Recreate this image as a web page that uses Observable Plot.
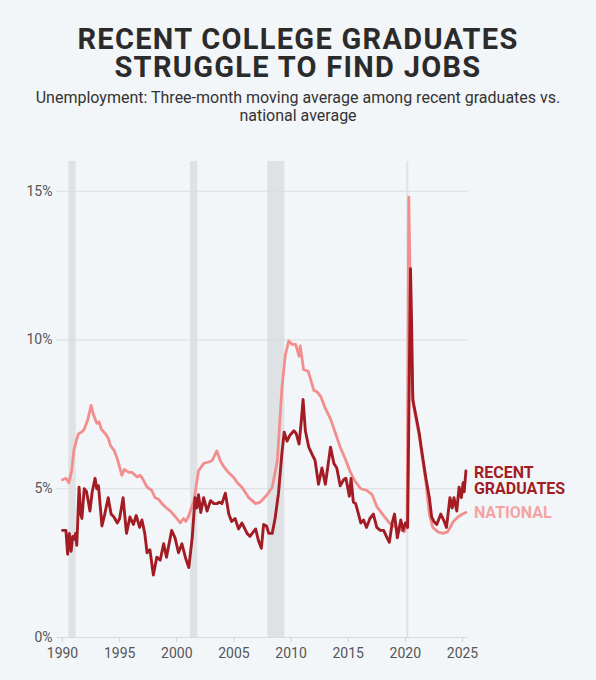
<!DOCTYPE html>
<html>
<head>
<meta charset="utf-8">
<script src="https://cdn.jsdelivr.net/npm/d3@7"></script>
<script src="https://cdn.jsdelivr.net/npm/@observablehq/plot@0.6"></script>
<style>
  html, body { margin: 0; padding: 0; background: #f3f6f9; }
  #wrap { position: relative; width: 596px; height: 680px; overflow: hidden; font-family: Roboto, "Noto Sans", sans-serif; }
  #header { position: relative; height: 145px; }
  #title { position: absolute; left: 0; width: 596px; top: 25px; text-align: center; font-weight: 700; font-size: 29px; line-height: 28px; color: #2b2b2b; letter-spacing: 1.3px; }
  #subtitle { position: absolute; left: 0; width: 596px; top: 89px; text-align: center; font-weight: 400; font-size: 16px; line-height: 18px; color: #333; }
</style>
</head>
<body>
<div id="wrap">
  <div id="header">
    <div id="title">RECENT COLLEGE GRADUATES<br>STRUGGLE TO FIND JOBS</div>
    <div id="subtitle">Unemployment: Three-month moving average among recent graduates vs.<br>national average</div>
  </div>
  <div id="chart"></div>
</div>
<script>
// National unemployment (3-month moving average, %)
const natYears = [1990.0,1990.3,1990.55,1990.8,1991.0,1991.2,1991.4,1991.65,1991.9,1992.2,1992.5,1992.7,1993.0,1993.2,1993.4,1993.75,1994.0,1994.2,1994.5,1994.8,1995.2,1995.4,1995.8,1996.1,1996.5,1996.8,1997.0,1997.4,1997.8,1998.1,1998.4,1998.7,1999.1,1999.45,1999.9,2000.3,2000.6,2000.8,2001.05,2001.5,2001.9,2002.35,2002.8,2003.1,2003.5,2003.8,2004.1,2004.4,2005.0,2005.3,2005.7,2006.3,2006.9,2007.3,2007.9,2008.35,2008.8,2009.2,2009.5,2009.8,2010.1,2010.4,2010.7,2010.8,2011.1,2011.5,2012.0,2012.3,2012.6,2013.0,2013.45,2013.9,2014.3,2014.75,2015.2,2015.6,2016.1,2016.6,2017.1,2017.5,2018.0,2018.6,2019.0,2019.45,2019.9,2020.15,2020.3,2020.42,2020.55,2020.7,2020.95,2021.2,2021.5,2021.8,2022.1,2022.4,2022.85,2023.3,2023.7,2024.2,2024.6,2025.0,2025.3];
const natValues = [5.3,5.35,5.2,5.6,6.3,6.6,6.85,6.9,7.0,7.3,7.8,7.5,7.2,7.25,7.0,6.85,6.7,6.45,6.3,6.0,5.45,5.65,5.55,5.55,5.4,5.45,5.35,5.05,4.95,4.7,4.65,4.5,4.35,4.25,4.05,3.85,4.0,3.9,4.1,4.6,5.6,5.85,5.9,5.95,6.27,5.95,5.75,5.6,5.37,5.2,5.05,4.7,4.5,4.55,4.8,5.05,5.95,8.4,9.5,9.97,9.85,9.85,9.45,9.8,9.0,8.95,8.3,8.25,8.1,7.7,7.35,6.85,6.4,6.0,5.55,5.25,5.0,4.95,4.8,4.4,4.15,3.85,3.75,3.65,3.55,3.8,14.8,12.0,9.0,7.8,7.3,6.8,6.0,5.2,4.15,3.7,3.55,3.5,3.55,3.9,4.05,4.15,4.2];

// Recent college graduates (3-month moving average, %)
const gradYears = [1990.0,1990.3,1990.45,1990.6,1990.75,1990.9,1991.0,1991.15,1991.25,1991.45,1991.6,1991.7,1991.9,1992.1,1992.25,1992.4,1992.6,1992.85,1993.0,1993.15,1993.45,1993.7,1994.0,1994.25,1994.5,1994.8,1995.0,1995.3,1995.6,1995.9,1996.2,1996.45,1996.75,1996.95,1997.2,1997.4,1997.65,1997.95,1998.25,1998.55,1998.85,1999.1,1999.55,1999.85,2000.15,2000.45,2000.75,2001.05,2001.35,2001.6,2001.75,2001.9,2002.1,2002.35,2002.65,2002.95,2003.25,2003.5,2003.75,2003.95,2004.25,2004.55,2004.8,2005.1,2005.4,2005.7,2006.15,2006.4,2006.9,2007.15,2007.4,2007.6,2007.85,2008.05,2008.35,2008.6,2008.9,2009.2,2009.4,2009.65,2009.9,2010.25,2010.45,2010.7,2010.9,2011.05,2011.25,2011.55,2011.85,2012.1,2012.4,2012.7,2013.0,2013.2,2013.45,2013.75,2014.0,2014.3,2014.6,2014.8,2015.1,2015.25,2015.45,2015.65,2015.9,2016.1,2016.35,2016.6,2016.9,2017.2,2017.5,2017.8,2018.1,2018.4,2018.6,2018.85,2019.05,2019.3,2019.6,2019.8,2020.0,2020.2,2020.35,2020.45,2020.55,2020.65,2020.95,2021.2,2021.5,2021.8,2022.1,2022.3,2022.5,2022.75,2023.1,2023.4,2023.6,2023.9,2024.1,2024.25,2024.5,2024.7,2024.9,2025.05,2025.15,2025.3];
const gradValues = [3.6,3.6,2.8,3.5,2.9,3.4,3.3,3.5,3.1,5.05,4.15,4.0,5.0,4.9,4.6,4.25,4.9,5.35,5.0,5.1,3.75,4.15,4.7,4.15,4.05,3.85,4.0,4.7,3.5,4.05,3.8,4.1,3.7,3.95,3.5,2.85,2.95,2.1,2.7,2.6,3.15,2.7,3.6,3.35,2.85,3.15,2.7,2.35,3.35,4.7,4.35,4.8,4.2,4.7,4.25,4.6,4.5,4.5,4.55,4.5,4.85,4.15,3.9,4.0,3.65,3.85,3.5,3.4,3.65,3.25,3.0,3.8,3.75,3.5,3.5,4.0,4.85,6.2,6.9,6.6,6.8,6.95,6.85,6.5,7.3,8.0,6.95,6.4,6.15,5.95,5.15,5.7,5.15,5.7,6.4,5.85,5.7,5.1,5.3,5.35,4.75,5.35,4.55,4.5,4.15,3.85,3.95,3.7,4.0,4.15,3.7,3.6,3.6,3.35,3.2,3.85,4.15,3.35,3.95,3.6,3.85,3.7,9.0,12.4,10.5,8.0,7.4,6.9,6.1,5.35,4.7,4.05,3.9,3.8,4.15,3.9,3.7,4.7,4.35,4.7,4.25,5.05,4.7,5.2,4.9,5.6];

// Recessions (start, end)
const recessionStart = [1990.55, 2001.2, 2007.96, 2020.13];
const recessionEnd   = [1991.2, 2001.84, 2009.45, 2020.3];

const yTicks = [0, 5, 10, 15];
const xTicks = [1990, 1995, 2000, 2005, 2010, 2015, 2020, 2025];

const national = natYears.map((x, i) => ({x, y: natValues[i]}));
const grads = gradYears.map((x, i) => ({x, y: gradValues[i]}));
const recessions = recessionStart.map((s, i) => ({s, e: recessionEnd[i]}));
const natLast = national[national.length - 1];
const gradLast = grads[grads.length - 1];

const NAT_COLOR = "#f28e8e";
const GRAD_COLOR = "#a31c24";

const chart = Plot.plot({
  width: 596,
  height: 527,
  marginLeft: 62,
  marginRight: 134,
  marginTop: 16,
  marginBottom: 35,
  style: { background: "transparent", fontFamily: "Roboto, 'Noto Sans', sans-serif", fontSize: "14px", color: "#555", overflow: "visible" },
  x: { domain: [1990, 2025], label: null },
  y: { domain: [0, 16], label: null },
  marks: [
    Plot.rect(recessions, { x1: "s", x2: "e", y1: 0, y2: 16, fill: "#dfe2e5" }),
    Plot.ruleY(yTicks, { x1: 1989.5, x2: 2025.5, stroke: "#d9dcdf", strokeWidth: 1 }),
    Plot.axisX({ ticks: xTicks, tickFormat: d => String(d), tickSize: 5, tickPadding: 6, stroke: "#cfd2d5", fill: "#555", fontSize: 14, label: null }),
    Plot.axisY({ ticks: yTicks, tickFormat: d => d + "%", tickSize: 0, tickPadding: 10, fill: "#555", fontSize: 14, label: null }),
    Plot.line(national, { x: "x", y: "y", stroke: NAT_COLOR, strokeWidth: 2.8, strokeLinejoin: "round" }),
    Plot.line(grads, { x: "x", y: "y", stroke: GRAD_COLOR, strokeWidth: 2.9, strokeLinejoin: "round" }),
    Plot.text([gradLast], { x: "x", y: "y", text: () => "RECENT\nGRADUATES", textAnchor: "start", lineAnchor: "middle", dx: 8, dy: 10, lineHeight: 1.0, fill: GRAD_COLOR, fontWeight: 700, fontSize: 16 }),
    Plot.text([natLast], { x: "x", y: "y", text: () => "NATIONAL", textAnchor: "start", lineAnchor: "middle", dx: 8, dy: 0, fill: "#f4a3a3", fontWeight: 700, fontSize: 16 })
  ]
});
document.getElementById("chart").appendChild(chart);
</script>
</body>
</html>
